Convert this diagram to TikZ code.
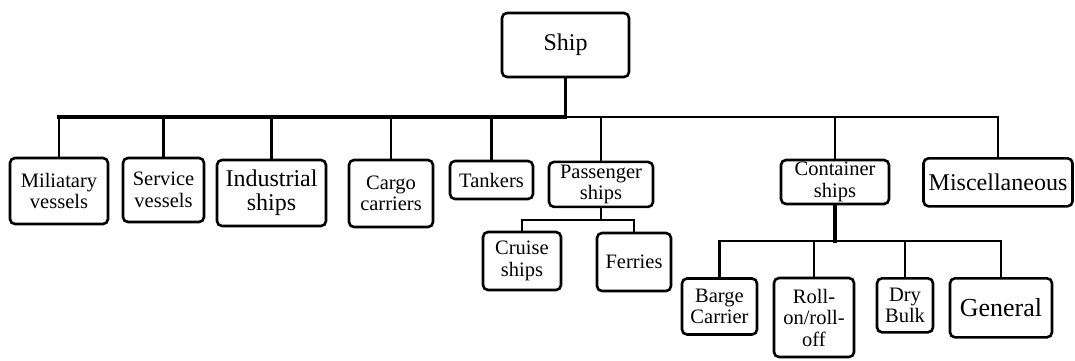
\documentclass[tikz,border=0pt]{standalone}
\usepackage{fontspec}
\setmainfont{Liberation Serif}
\usetikzlibrary{positioning,calc}

\tikzset{
  box/.style={draw, line width=2.6pt, rounded corners=5pt, align=center, inner sep=0pt,
    font=\fontsize{20.5}{21.5}\selectfont},
  bigbox/.style={box, font=\fontsize{24}{24}\selectfont},
  link/.style={line width=2.2pt, line cap=rect},
  trunk/.style={line width=3.4pt, line cap=rect}
}

\begin{document}
\begin{tikzpicture}[x=1pt,y=-1pt]
    \useasboundingbox (0,0) rectangle (1075,360);
    \node[bigbox, minimum width=127, minimum height=64] (ship) at (565.5,45) {Ship};
    \node[box, minimum width=98, minimum height=66] (mil) at (59,191) {Miliatary\\vessels};
    \node[box, minimum width=81, minimum height=64] (serv) at (163.5,190) {Service\\vessels};
    \node[bigbox, minimum width=109, minimum height=66] (ind) at (271.5,193) {Industrial\\ships};
    \node[box, minimum width=84, minimum height=67] (cargo) at (391,193.5) {Cargo\\carriers};
    \node[box, minimum width=83, minimum height=38] (tank) at (491.5,180) {Tankers};
    \node[box, minimum width=104, minimum height=45] (pass) at (601,184.4) {Passenger\\ships};
    \node[box, minimum width=108, minimum height=44] (cont) at (835,182) {Container\\ships};
    \node[bigbox, minimum width=149, minimum height=48] (misc) at (998,182.3) {Miscellaneous};
    \node[box, minimum width=78, minimum height=58] (cruise) at (522,261) {Cruise\\ships};
    \node[box, minimum width=74, minimum height=58] (ferr) at (634,262) {Ferries};
    \node[box, minimum width=75, minimum height=56] (barge) at (719.5,306.5) {Barge\\Carrier};
    \node[box, minimum width=80, minimum height=79] (roll) at (814,317.5) {Roll-\\on/roll-\\off};
    \node[box, minimum width=56, minimum height=54] (dry) at (905,305.3) {Dry\\Bulk};
    \node[box, minimum width=102, minimum height=59, font=\fontsize{26}{26}\selectfont] (gen) at (1001,307.8) {General};

    \coordinate (busy) at (0,117);
    \coordinate (bus) at (ship.south |- busy);
    \draw[link] (ship.south) -- (bus);
    \draw[trunk] (bus) -- (mil.north |- bus);
    \draw[link] (bus) -- (misc.north |- bus);
    \foreach \n in {mil,serv,ind,cargo,tank,pass,cont,misc}
        \draw[link] (\n.north) -- (\n.north |- bus);

    \coordinate (pbusy) at (0,220);
    \coordinate (pbus) at (pass.south |- pbusy);
    \draw[link] (pass.south) -- (pbus);
    \draw[link] (cruise.north) |- (pbus) -| (ferr.north);

    \coordinate (cbusy) at (0,241);
    \coordinate (cbus) at (cont.south |- cbusy);
    \draw[trunk] (cont.south) -- (cbus);
    \draw[link] (barge.north) |- (cbus) -| (gen.north);
    \foreach \n in {roll,dry}
        \draw[link] (\n.north) -- (\n.north |- cbus);
\end{tikzpicture}
\end{document}
